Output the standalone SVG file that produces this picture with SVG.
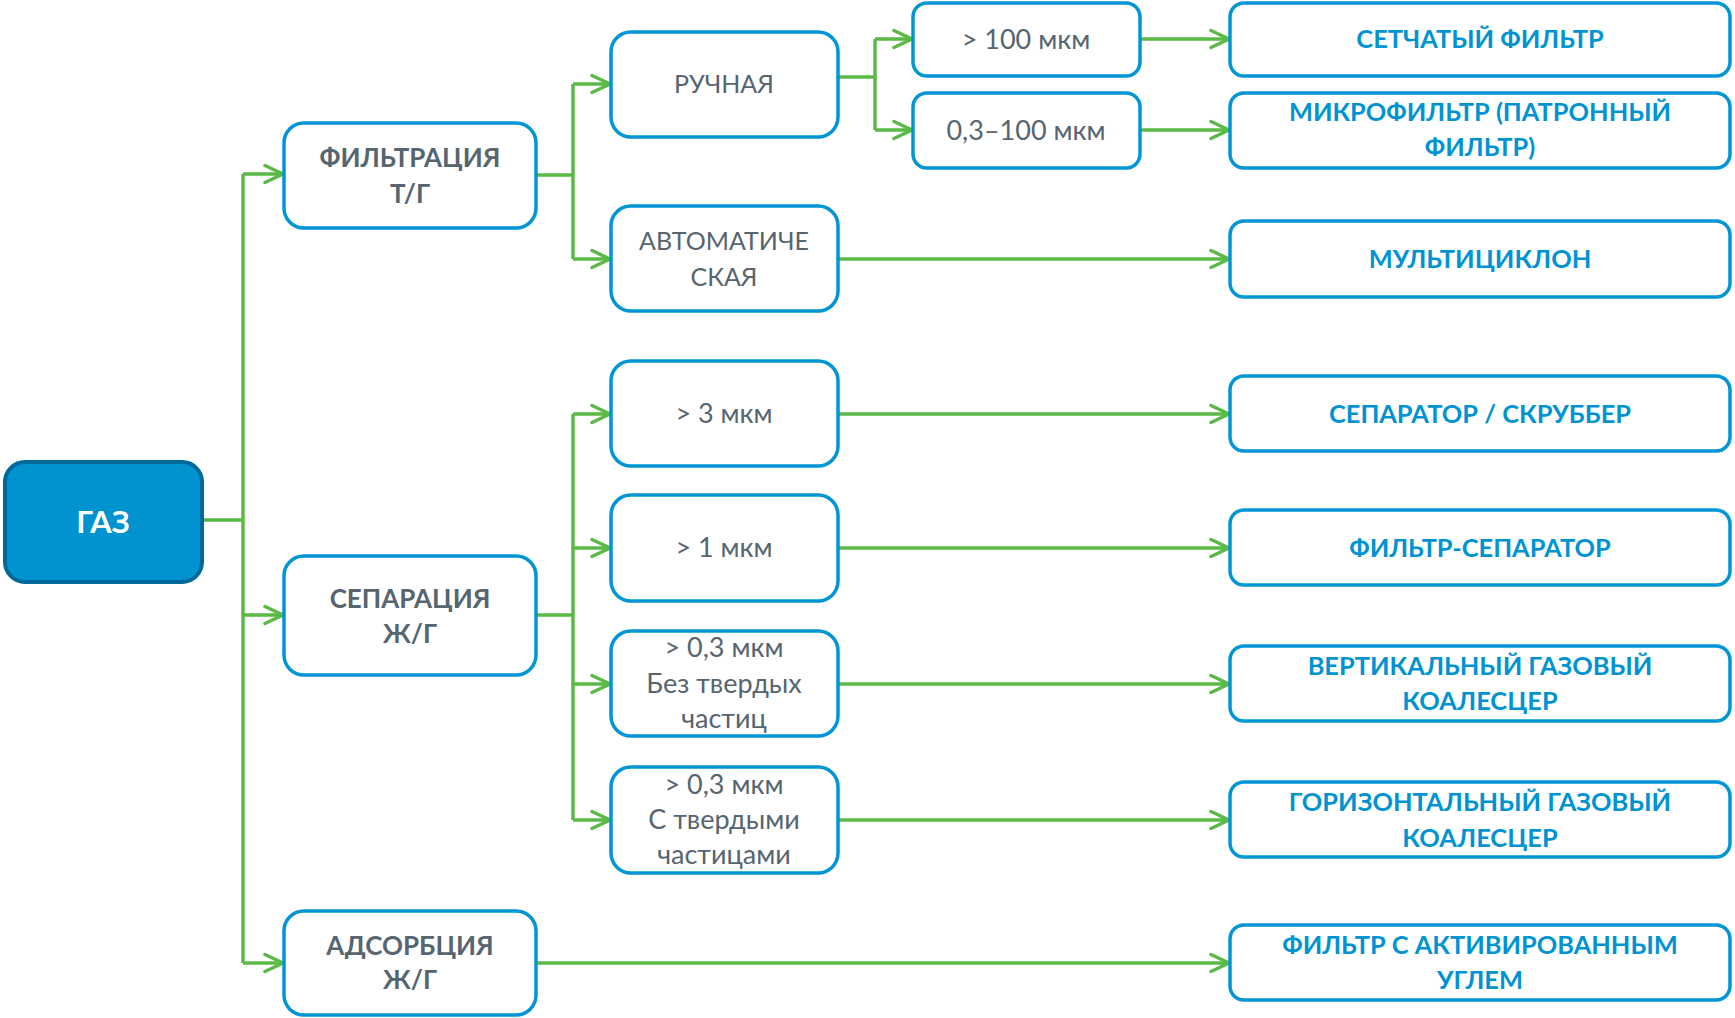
<svg xmlns="http://www.w3.org/2000/svg" width="1735" height="1018" viewBox="0 0 1735 1018">
<style>
.box{fill:#fff;stroke:#0096d6;stroke-width:3.5}
.root{fill:#0093cf;stroke:#00699a;stroke-width:4}
.h{font-family:Lato,"Open Sans","Liberation Sans",sans-serif;font-weight:700;font-size:26px;fill:#56656f;text-anchor:middle}
.m{font-family:Lato,"Open Sans","Liberation Sans",sans-serif;font-weight:400;font-size:25px;fill:#56656f;text-anchor:middle}
.l{font-family:Lato,"Open Sans","Liberation Sans",sans-serif;font-weight:400;font-size:27px;fill:#56656f;text-anchor:middle}
.r{font-family:Lato,"Open Sans","Liberation Sans",sans-serif;font-weight:700;font-size:25.4px;fill:#0093d2;text-anchor:middle}
.g{font-family:Lato,"Open Sans","Liberation Sans",sans-serif;font-weight:700;font-size:31px;fill:#fff;text-anchor:middle}
.c{fill:none;stroke:#5bb946;stroke-width:3.5}
</style>
<defs>
<marker id="ah" markerUnits="userSpaceOnUse" markerWidth="24" markerHeight="24" refX="20" refY="10" orient="auto" viewBox="0 0 24 20">
<path d="M2,1.5 L20,10 L2,18.5" fill="none" stroke="#5bb946" stroke-width="3.5" stroke-linecap="round" stroke-linejoin="round"/>
</marker>
</defs>
<g id="connectors">
<path class="c" d="M203,520 H243"/>
<path class="c" d="M243,174 V963"/>
<path class="c" d="M243,174 H283" marker-end="url(#ah)"/>
<path class="c" d="M243,615 H283" marker-end="url(#ah)"/>
<path class="c" d="M243,963 H283" marker-end="url(#ah)"/>
<path class="c" d="M536,175 H573"/>
<path class="c" d="M573,84 V259"/>
<path class="c" d="M573,84 H610" marker-end="url(#ah)"/>
<path class="c" d="M573,259 H610" marker-end="url(#ah)"/>
<path class="c" d="M838,77 H875"/>
<path class="c" d="M875,39 V130"/>
<path class="c" d="M875,39 H912" marker-end="url(#ah)"/>
<path class="c" d="M875,130 H912" marker-end="url(#ah)"/>
<path class="c" d="M1140,39 H1229" marker-end="url(#ah)"/>
<path class="c" d="M1140,130 H1229" marker-end="url(#ah)"/>
<path class="c" d="M838,259 H1229" marker-end="url(#ah)"/>
<path class="c" d="M536,615 H573"/>
<path class="c" d="M573,414 V820"/>
<path class="c" d="M573,414 H610" marker-end="url(#ah)"/>
<path class="c" d="M573,548 H610" marker-end="url(#ah)"/>
<path class="c" d="M573,684 H610" marker-end="url(#ah)"/>
<path class="c" d="M573,820 H610" marker-end="url(#ah)"/>
<path class="c" d="M838,414 H1229" marker-end="url(#ah)"/>
<path class="c" d="M838,548 H1229" marker-end="url(#ah)"/>
<path class="c" d="M838,684 H1229" marker-end="url(#ah)"/>
<path class="c" d="M838,820 H1229" marker-end="url(#ah)"/>
<path class="c" d="M536,963 H1229" marker-end="url(#ah)"/>
</g>
<g id="gaz"><rect class="root" x="5" y="462" width="197" height="120" rx="20"/><text class="g" x="103" y="533">ГАЗ</text></g>
<g id="filtr"><rect class="box" x="284" y="123" width="252" height="105" rx="20"/><text class="h" x="410" y="167">ФИЛЬТРАЦИЯ</text><text class="h" x="410" y="203">Т/Г</text></g>
<g id="separ"><rect class="box" x="284" y="556" width="252" height="119" rx="20"/><text class="h" x="410" y="608">СЕПАРАЦИЯ</text><text class="h" x="410" y="643">Ж/Г</text></g>
<g id="adsorb"><rect class="box" x="284" y="911" width="252" height="104" rx="20"/><text class="h" x="410" y="955">АДСОРБЦИЯ</text><text class="h" x="410" y="989">Ж/Г</text></g>
<g id="ruch"><rect class="box" x="611" y="32" width="227" height="105" rx="20"/><text class="m" x="724" y="93">РУЧНАЯ</text></g>
<g id="avto"><rect class="box" x="611" y="206" width="227" height="105" rx="20"/><text class="m" x="724" y="250">АВТОМАТИЧЕ</text><text class="m" x="724" y="286">СКАЯ</text></g>
<g id="m100"><rect class="box" x="913" y="3" width="227" height="73" rx="14"/><text class="l" x="1026" y="49">&gt; 100 мкм</text></g>
<g id="m03100"><rect class="box" x="913" y="93" width="227" height="75" rx="14"/><text class="l" x="1026" y="140">0,3–100 мкм</text></g>
<g id="m3"><rect class="box" x="611" y="361" width="227" height="105" rx="20"/><text class="l" x="724" y="423">&gt; 3 мкм</text></g>
<g id="m1"><rect class="box" x="611" y="495" width="227" height="106" rx="20"/><text class="l" x="724" y="557">&gt; 1 мкм</text></g>
<g id="m03a"><rect class="box" x="611" y="631" width="227" height="105" rx="20"/><text class="l" x="724" y="657">&gt; 0,3 мкм</text><text class="l" x="724" y="693">Без твердых</text><text class="l" x="724" y="728">частиц</text></g>
<g id="m03b"><rect class="box" x="611" y="767" width="227" height="106" rx="20"/><text class="l" x="724" y="794">&gt; 0,3 мкм</text><text class="l" x="724" y="829">С твердыми</text><text class="l" x="724" y="864">частицами</text></g>
<g id="setch"><rect class="box" x="1230" y="3" width="500" height="73" rx="14"/><text class="r" x="1480" y="48">СЕТЧАТЫЙ ФИЛЬТР</text></g>
<g id="micro"><rect class="box" x="1230" y="93" width="500" height="75" rx="14"/><text class="r" x="1480" y="121">МИКРОФИЛЬТР (ПАТРОННЫЙ</text><text class="r" x="1480" y="156">ФИЛЬТР)</text></g>
<g id="multi"><rect class="box" x="1230" y="221" width="500" height="76" rx="14"/><text class="r" x="1480" y="268">МУЛЬТИЦИКЛОН</text></g>
<g id="scrub"><rect class="box" x="1230" y="376" width="500" height="75" rx="14"/><text class="r" x="1480" y="423">СЕПАРАТОР / СКРУББЕР</text></g>
<g id="fsep"><rect class="box" x="1230" y="510" width="500" height="75" rx="14"/><text class="r" x="1480" y="557">ФИЛЬТР-СЕПАРАТОР</text></g>
<g id="vert"><rect class="box" x="1230" y="646" width="500" height="75" rx="14"/><text class="r" x="1480" y="675">ВЕРТИКАЛЬНЫЙ ГАЗОВЫЙ</text><text class="r" x="1480" y="710">КОАЛЕСЦЕР</text></g>
<g id="horiz"><rect class="box" x="1230" y="782" width="500" height="75" rx="14"/><text class="r" x="1480" y="811">ГОРИЗОНТАЛЬНЫЙ ГАЗОВЫЙ</text><text class="r" x="1480" y="847">КОАЛЕСЦЕР</text></g>
<g id="activ"><rect class="box" x="1230" y="925" width="500" height="75" rx="14"/><text class="r" x="1480" y="954">ФИЛЬТР С АКТИВИРОВАННЫМ</text><text class="r" x="1480" y="989">УГЛЕМ</text></g>
</svg>
